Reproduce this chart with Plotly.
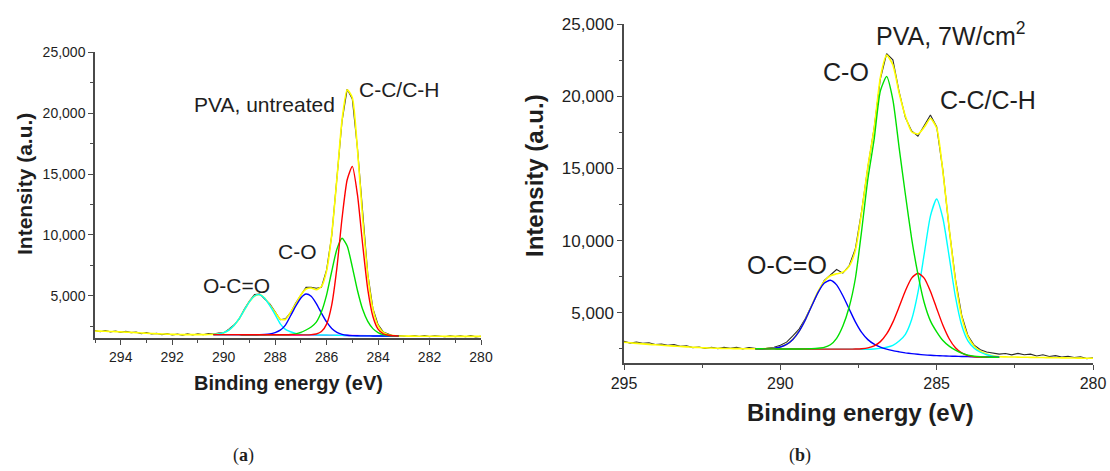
import plotly.graph_objects as go

W, H = 1110, 471

# ---------------- data ----------------
ENERGY = [295.0, 294.8, 294.6, 294.4, 294.2, 294.0, 293.8, 293.6, 293.4, 293.2,
          293.0, 292.8, 292.6, 292.4, 292.2, 292.0, 291.8, 291.6, 291.4, 291.2,
          291.0, 290.8, 290.6, 290.4, 290.2, 290.0, 289.8, 289.6, 289.4, 289.2,
          289.0, 288.8, 288.6, 288.4, 288.2, 288.0, 287.8, 287.6, 287.4, 287.2,
          287.0, 286.8, 286.6, 286.4, 286.2, 286.0, 285.8, 285.6, 285.4, 285.2,
          285.0, 284.8, 284.6, 284.4, 284.2, 284.0, 283.8, 283.6, 283.4, 283.2,
          283.0, 282.8, 282.6, 282.4, 282.2, 282.0, 281.8, 281.6, 281.4, 281.2,
          281.0, 280.8, 280.6, 280.4, 280.2, 280.0]

# (a) PVA, untreated
ENV_A = [2100, 2090, 2075, 2060, 2045, 2030, 2010, 1990, 1965, 1940,
         1915, 1895, 1875, 1855, 1840, 1825, 1815, 1805, 1800, 1798,
         1798, 1800, 1808,
         1822, 1864, 1965, 2176, 2549, 3109, 3806, 4495, 4977, 5085,
         4791, 4223, 3622, 3068, 3047, 3635, 4324, 5056, 5548, 5628,
         5488, 5751, 7041, 10049, 14596, 19432, 21914, 21274, 16999, 11406,
         6716, 3895, 2534, 1983, 1792, 1717, 1691,
         1685, 1680, 1676, 1672, 1670, 1668, 1666, 1664, 1662, 1660,
         1659, 1658, 1657, 1656, 1655, 1655]
RAW_A = [2140, 2040, 2135, 2030, 2095, 1990, 2080, 1970, 2005, 1880,
         1965, 1855, 1905, 1795, 1880, 1775, 1845, 1765, 1860, 1778,
         1868, 1790, 1888,
         1852, 1924, 1945, 2246, 2589, 3079, 3886, 4555, 5097, 5125,
         4731, 4303, 3672, 3028, 3107, 3605, 4394, 5096, 5698, 5688,
         5608, 5701, 7121, 9949, 14716, 19352, 21974, 21154, 17099, 11556,
         6796, 3955, 2624, 2023, 1852, 1697, 1721,
         1705, 1650, 1716, 1652, 1720, 1638, 1706, 1674, 1632, 1710,
         1639, 1698, 1627, 1716, 1615, 1675]
BG_A = [1800, 1800, 1799, 1799, 1798, 1798, 1797, 1796, 1795, 1794,
        1792, 1790, 1789, 1788, 1787, 1786, 1785, 1784, 1782, 1780,
        1777, 1773, 1768, 1760, 1750, 1738, 1725, 1714, 1706, 1700,
        1697, 1695, 1694, 1693, 1692, 1692, 1691]
CYAN_A = [22, 64, 166, 377, 751, 1311, 2009, 2699, 3181, 3286,
          2979, 2367, 1650, 900, 450, 254, 105, 38, 12, 0,
          0, 0, 0, 0, 0, 0, 0, 0, 0, 0,
          0, 0, 0, 0, 0, 0, 0]
BLUE_A = [0, 0, 0, 0, 0, 0, 0, 0, 1, 5,
          20, 66, 183, 380, 800, 1565, 2354, 3034, 3354, 3178,
          2581, 1798, 1073, 549, 241, 91, 29, 8, 2, 0,
          0, 0, 0, 0, 0, 0, 0]
GREEN_A = [0, 0, 0, 0, 0, 0, 0, 0, 0, 0,
           0, 0, 0, 0, 10, 30, 80, 200, 400, 650,
           1050, 1900, 3300, 5250, 7070, 7980, 7360, 5640, 3720, 2180,
           1190, 600, 280, 110, 40, 10, 0]
RED_A = [0, 0, 0, 0, 0, 0, 0, 0, 0, 0,
         0, 0, 0, 0, 0, 0, 0, 0, 0, 20,
         80, 280, 900, 2490, 5535, 9623, 12800, 13912, 11571, 7526,
         3829, 1600, 560, 180, 60, 15, 0]

# (b) PVA, 7 W/cm2
ENV_B = [2960, 2920, 2880, 2845, 2810, 2780, 2750, 2720, 2690, 2665,
         2640, 2615, 2590, 2570, 2555, 2540, 2530, 2522, 2516, 2512,
         2510,
         2511, 2511, 2519, 2551, 2634, 2815, 3157, 3717, 4518, 5486,
         6442, 7170, 7560, 7696, 7806, 8215, 9332, 11955, 15147, 17761,
         21307, 22845, 22166, 20219, 18613, 17538, 17382, 17842, 18452, 17792,
         14764, 10872, 7236, 4720, 3343, 2686, 2344, 2138, 2018, 1956,
         1945, 1936, 1928, 1920, 1912, 1905, 1898, 1891, 1884, 1877,
         1870, 1864, 1858, 1852, 1846]
RAW_B = [3020, 2900, 2970, 2885, 2920, 2800, 2840, 2750, 2790, 2675,
         2720, 2585, 2630, 2530, 2615, 2520, 2600, 2542, 2606, 2502,
         2590,
         2551, 2471, 2549, 2611, 2754, 2965, 3407, 3867, 4598, 5546,
         6392, 7230, 7640, 7996, 7746, 8255, 9432, 12035, 15087, 17791,
         21207, 22945, 22516, 20299, 18513, 17598, 17232, 17992, 18702, 17892,
         14844, 10812, 7336, 4840, 3423, 2746, 2444, 2288, 2218, 2136,
         2175, 2086, 2188, 2090, 2132, 2005, 2088, 1971, 2034, 1937,
         1990, 1904, 1948, 1822, 1876]
BG_B = [2510, 2505, 2500, 2497, 2494, 2492, 2490, 2488, 2487, 2486,
        2485, 2484, 2483, 2482, 2481, 2480, 2479, 2478, 2476, 2474,
        2470, 2462, 2448, 2425, 2390, 2340, 2280, 2210, 2140, 2080,
        2030, 1990, 1960, 1940, 1928, 1920, 1915, 1912, 1910, 1908]
BLUE_B = [2501, 2503, 2515, 2548, 2632, 2813, 3155, 3715, 4505, 5452,
          6377, 7044, 7255, 6930, 6180, 5275, 4370, 3640, 3140, 2826,
          2617, 2479, 2375, 2295, 2226, 2170, 2125, 2085, 2055, 2035,
          2017, 2000, 1985, 1972, 1961, 1952, 1944, 1937, 1931, 1926]
GREEN_B = [0, 0, 0, 0, 0, 0, 0, 0, 10, 30,
           60, 120, 300, 750, 1600, 2900, 4894, 8200, 11800, 14530,
           17900, 18900, 17300, 14000, 10800, 7800, 5400, 3500, 2300, 1600,
           1050, 700, 450, 260, 140, 70, 35, 15, 5, 0]
RED_B = [0, 0, 0, 0, 0, 0, 0, 0, 0, 0,
         0, 0, 0, 0, 0, 0, 9, 30, 89, 231,
         530, 1069, 1903, 2989, 4141, 5061, 5457, 5190, 4354, 3222,
         2104, 1212, 616, 276, 109, 38, 12, 4, 1, 0]
CYAN_B = [0, 0, 0, 0, 0, 0, 0, 0, 0, 0,
          0, 0, 0, 0, 0, 0, 0, 0, 0, 20,
          60, 150, 300, 620, 1121, 2192, 4115, 6827, 9558, 10800,
          9500, 6900, 4150, 2192, 1121, 620, 350, 180, 80, 30]

E_FIT_A = ENERGY[23:60]
E_FIT_B = ENERGY[21:61]

Y_TICKS = [5000, 10000, 15000, 20000, 25000]

# ---------------- styling ----------------
FONT = "Liberation Sans, Arial, sans-serif"
AX = "#4a4a4a"
TXT = "#1e1e1e"
YEL = "#ffff00"


def stack(base, h):
    return [b + v for b, v in zip(base, h)]


fig = go.Figure()


def add(x, y, color, xa, ya, width=1.4, shape="spline"):
    fig.add_trace(go.Scatter(x=x, y=y, mode="lines", xaxis=xa, yaxis=ya,
                             line=dict(color=color, width=width, shape=shape,
                                       smoothing=0.6),
                             hoverinfo="skip"))


# panel a
add(ENERGY, RAW_A, "#2b2b2b", "x", "y", 1.1, "linear")
add(ENERGY, ENV_A, YEL, "x", "y", 1.6)
add(E_FIT_A, BG_A, "#ff00ff", "x", "y", 1.4, "linear")
add(E_FIT_A, stack(BG_A, CYAN_A), "#00ffff", "x", "y")
add(E_FIT_A, stack(BG_A, BLUE_A), "#0000ff", "x", "y")
add(E_FIT_A, stack(BG_A, GREEN_A), "#00e000", "x", "y")
add(E_FIT_A, stack(BG_A, RED_A), "#ff0000", "x", "y")

# panel b
add(ENERGY, RAW_B, "#2b2b2b", "x2", "y2", 1.1, "linear")
add(ENERGY, ENV_B, YEL, "x2", "y2", 1.6)
add(E_FIT_B, stack(BG_B, CYAN_B), "#00ffff", "x2", "y2")
add(E_FIT_B, BLUE_B, "#0000ff", "x2", "y2")
add(E_FIT_B, stack(BG_B, RED_B), "#ff0000", "x2", "y2")
add(E_FIT_B, stack(BG_B, GREEN_B), "#00e000", "x2", "y2")


def xaxis(dom, dtick, minor, size, anchor):
    return dict(domain=dom, range=[295, 280], dtick=dtick, tick0=280,
                anchor=anchor, automargin=False,
                showline=True, linecolor=AX, linewidth=1.5, mirror=False,
                ticks="outside", ticklen=5, tickwidth=1.2, tickcolor=AX,
                showgrid=False, zeroline=False,
                tickfont=dict(family=FONT, size=size, color=TXT),
                minor=dict(dtick=minor, tick0=280, ticks="outside", ticklen=3,
                           tickwidth=1, tickcolor=AX, showgrid=False))


def yaxis(dom, size, anchor):
    return dict(domain=dom, range=[1500, 25000], tickvals=Y_TICKS,
                tickformat=",d", anchor=anchor, automargin=False,
                showline=True, linecolor=AX, linewidth=1.5, mirror=False,
                ticks="outside", ticklen=5, tickwidth=1.2, tickcolor=AX,
                showgrid=False, zeroline=False,
                tickfont=dict(family=FONT, size=size, color=TXT),
                minor=dict(dtick=2500, tick0=0, ticks="outside", ticklen=3,
                           tickwidth=1, tickcolor=AX, showgrid=False))


def px(xp, yp):
    return xp / W, 1 - yp / H


def note(text, xp, yp, size, xanchor="center", bold=False, angle=0,
         family=FONT):
    x, y = px(xp, yp)
    if bold:
        text = "<b>" + text + "</b>"
    return dict(text=text, x=x, y=y, xref="paper", yref="paper",
                xanchor=xanchor, yanchor="middle", showarrow=False,
                textangle=angle, font=dict(family=family, size=size, color=TXT))


annotations = [
    # panel a
    note("PVA, untreated", 192, 105, 21, "left"),
    note("C-C/C-H", 357, 90, 21, "left"),
    note("C-O", 297, 251, 21),
    note("O-C=O", 236, 285, 21),
    note("Binding energy (eV)", 288, 383, 20, bold=True),
    note("Intensity (a.u.)", 24, 184, 21, bold=True, angle=-90),
    # panel b
    note("PVA, 7W/cm<sup>2</sup>", 874, 34, 25, "left"),
    note("C-O", 821, 72, 25, "left"),
    note("C-C/C-H", 938, 100, 25, "left"),
    note("O-C=O", 787, 265, 25),
    note("Binding energy (eV)", 860, 412, 24, bold=True),
    note("Intensity (a.u.)", 535, 176, 24, bold=True, angle=-90),
    # panel letters
    note("(<b>a</b>)", 243, 455, 18, family="Liberation Serif, serif"),
    note("(<b>b</b>)", 800, 455, 18, family="Liberation Serif, serif"),
]

fig.update_layout(
    template="none",
    width=W, height=H, autosize=False,
    margin=dict(l=0, r=0, t=0, b=0, pad=0),
    paper_bgcolor="white", plot_bgcolor="white",
    showlegend=False,
    font=dict(family=FONT, color=TXT),
    xaxis=xaxis([95 / W, 481 / W], 2, 1, 14, "y"),
    yaxis=yaxis([1 - 338.3 / H, 1 - 52.3 / H], 14, "x"),
    xaxis2=xaxis([624 / W, 1093 / W], 5, 2.5, 16, "y2"),
    yaxis2=yaxis([1 - 363.3 / H, 1 - 24 / H], 17, "x2"),
    annotations=annotations,
)

fig.write_html("out.html",
               config={"responsive": False, "displayModeBar": False},
               post_script="document.body.style.margin='0';")
